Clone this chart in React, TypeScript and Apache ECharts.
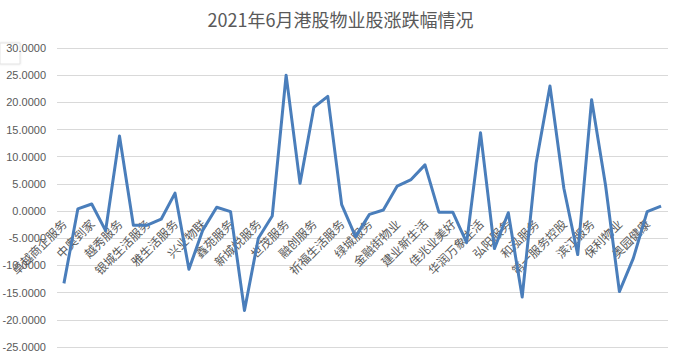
import React, { useEffect, useRef } from "react";
import * as echarts from "echarts";

const titleText = "2021年6月港股物业股涨跌幅情况";

const categories: string[] = [
  "卓越商企服务", "中海物业", "中奥到家", "正荣服务", "越秀服务", "远洋服务",
  "银城生活服务", "烨星集团", "雅生活服务", "星盛商业", "兴业物联", "新希望服务",
  "鑫苑服务", "新大正", "新城悦服务", "宋都服务", "世茂服务", "时代邻里",
  "融创服务", "荣万家", "祈福生活服务", "蓝光嘉宝服务", "绿城服务", "金科服务",
  "金融街物业", "建发物业", "建业新生活", "佳源服务", "佳兆业美好", "汇景控股",
  "华润万象生活", "合景悠活", "弘阳服务", "恒大物业", "和泓服务", "海伦堡",
  "第一服务控股", "彩生活", "滨江服务", "宝龙商业", "保利物业", "碧桂园服务",
  "奥园健康", "阿里健康",
];

const changes: number[] = [
  -13.3, 0.4, 1.3, -3.6, 13.8, -2.6,
  -2.6, -1.5, 3.3, -10.7, -3.5, 0.7,
  -0.1, -18.3, -5.0, -0.9, 25.0, 5.1,
  19.1, 21.1, 1.2, -4.7, -0.6, 0.2,
  4.6, 5.8, 8.5, -0.2, -0.2, -5.8,
  14.4, -6.9, -0.3, -15.8, 8.8, 23.0,
  4.2, -8.0, 20.5, 4.8, -14.8, -8.7,
  -0.1, 0.9,
];

const yMin = -25;
const yMax = 30;
const yStep = 5;

const W = 681;
const H = 354;
const gridTop = 48;
const gridBottom = 7;
const gridH = H - gridTop - gridBottom;

export default function App() {
  const ref = useRef<HTMLDivElement>(null);
  useEffect(() => {
    if (!ref.current) return;
    const chart = echarts.init(ref.current, undefined, { renderer: "svg" });
    // distance from the grid's bottom edge to the zero line
    const zeroFromBottom = (gridH * (0 - yMin)) / (yMax - yMin);
    chart.setOption({
      animation: false,
      backgroundColor: "#ffffff",
      title: {
        text: titleText,
        left: "center",
        top: 10,
        padding: 0,
        textStyle: {
          fontSize: 18,
          fontWeight: "normal",
          color: "#595959",
          fontFamily: "'Noto Sans CJK SC', sans-serif",
        },
      },
      grid: {
        left: 57,
        right: 13,
        top: gridTop,
        bottom: gridBottom,
        containLabel: false,
        outerBoundsMode: "none",
      },
      xAxis: {
        type: "category",
        data: categories,
        boundaryGap: true,
        position: "bottom",
        offset: -zeroFromBottom,
        axisLine: { show: false, onZero: false },
        axisTick: { show: false },
        axisLabel: {
          interval: 1,
          rotate: 45,
          margin: 10,
          fontSize: 12,
          color: "#595959",
          fontFamily: "'Noto Sans CJK SC', sans-serif",
        },
        splitLine: { show: false },
      },
      yAxis: {
        type: "value",
        min: yMin,
        max: yMax,
        interval: yStep,
        axisLine: { show: false },
        axisTick: { show: false },
        splitLine: { lineStyle: { color: "#d9d9d9", width: 1 } },
        axisLabel: {
          margin: 11,
          fontSize: 11,
          color: "#595959",
          fontFamily: "'Liberation Sans', Arial, sans-serif",
          formatter: (v: number) => v.toFixed(4),
        },
      },
      series: [
        {
          type: "line",
          data: changes,
          showSymbol: false,
          symbol: "none",
          lineStyle: { color: "#4a7ebb", width: 3, join: "round" },
          z: 3,
        },
      ],
      graphic: [
        {
          type: "rect",
          shape: { x: 0, y: 43, width: 20, height: 21 },
          style: {
            fill: "#ffffff",
            stroke: "#e3e3e3",
            lineWidth: 1,
            shadowBlur: 2,
            shadowColor: "rgba(0,0,0,0.12)",
          },
          z: 0,
          zlevel: 0,
        },
      ],
    });
    return () => chart.dispose();
  }, []);
  return (
    <div
      ref={ref}
      style={{ position: "fixed", left: 0, top: 0, width: W, height: H }}
    />
  );
}
